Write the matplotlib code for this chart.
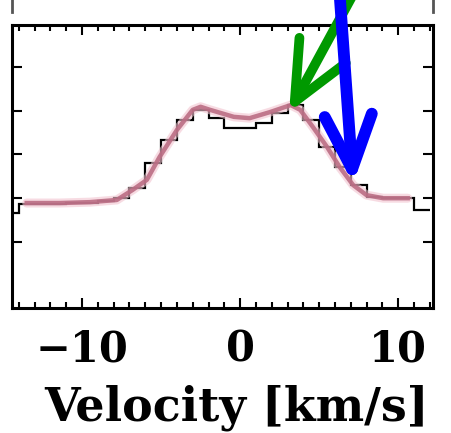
import numpy as np
import matplotlib
matplotlib.use('Agg')
import matplotlib.pyplot as plt
from matplotlib.ticker import MultipleLocator, NullFormatter

# observed spectrum, 1 km/s bins
bin_edges = list(range(-15, 13))
obs_flux = [0.66, 0.86, 0.86, 0.87, 0.88, 0.90, 0.93, 1.00,
            1.23, 1.81, 2.33, 2.79, 3.02, 2.83, 2.61, 2.61, 2.72, 2.95,
            3.13, 2.79, 2.17, 1.71, 1.30, 1.03, 1.00, 1.00, 0.73]

# model profile
model_vel = [-13.5, -11.4, -9.5, -7.8, -6.8, -5.9, -5.1, -4.0, -3.0, -2.5, -1.9,
             -0.4, 0.6, 1.9, 3.2, 3.8, 4.6, 5.5, 6.3, 7.15, 8.0, 9.05, 10.6]
model_flux = [0.89, 0.89, 0.91, 0.96, 1.19, 1.42, 1.94, 2.56, 3.02, 3.09, 3.02,
              2.86, 2.83, 2.97, 3.13, 3.02, 2.63, 2.17, 1.71, 1.30, 1.07, 1.00, 1.00]

# arrow targets (velocity, flux)
green_tip = (3.1, 2.97)
blue_tip = (7.15, 1.33)

fig = plt.figure(figsize=(4.52, 4.33), dpi=100)
ax = fig.add_axes([12/452, 1 - 308/433, 421/452, 283/433])

ax.plot(model_vel, model_flux, color='#f2c4d0', lw=6.5, alpha=0.6, solid_capstyle='round')
ax.stairs(obs_flux, bin_edges, baseline=None, color='black', lw=1.6)
ax.plot(model_vel, model_flux, color='#bb6d84', lw=3.2, alpha=0.9)

ax.set_xlim(-14.43, 12.2)
ax.set_ylim(-1.51, 4.96)
ax.set_xticks([-10, 0, 10])
ax.xaxis.set_minor_locator(MultipleLocator(1))
ax.set_yticks([0, 1, 2, 3, 4])
ax.yaxis.set_major_formatter(NullFormatter())
ax.tick_params(which='both', direction='in', top=True, right=True, width=1.5)
ax.tick_params(which='major', length=7)
ax.tick_params(which='minor', length=4)
ax.tick_params(axis='x', labelsize=30, pad=15)
for lab in ax.get_xticklabels():
    lab.set_family('DejaVu Serif')
    lab.set_weight('bold')
for sp in ax.spines.values():
    sp.set_linewidth(2.2)
ax.set_xlabel('Velocity [km/s]', family='DejaVu Serif', fontsize=33, weight='bold')
ax.xaxis.set_label_coords(0.534, -0.272)
ax.xaxis.label.set_va('top')

# bits of the panel above
ax_up = fig.add_axes([12/452, 1 - 12/433, 421/452, 0.2])
ax_up.set_xticks([])
ax_up.set_yticks([])
ax_up.patch.set_alpha(0)
ax_up.spines['top'].set_visible(False)
ax_up.spines['bottom'].set_visible(False)
for s in ['left', 'right']:
    ax_up.spines[s].set_linewidth(2)
    ax_up.spines[s].set_color('#555555')

ax.annotate('', xy=green_tip, xycoords='data', xytext=(0.812, 1.113),
            textcoords='axes fraction', annotation_clip=False,
            arrowprops=dict(arrowstyle='->,head_length=2.1,head_width=0.95',
                            mutation_scale=20, lw=7, color='#009900',
                            shrinkA=0, shrinkB=0, capstyle='round'))
ax.annotate('', xy=blue_tip, xycoords='data', xytext=(0.778, 1.113),
            textcoords='axes fraction', annotation_clip=False,
            arrowprops=dict(arrowstyle='->,head_length=1.94,head_width=0.85',
                            mutation_scale=20, lw=8.5, color='#0000ff',
                            shrinkA=0, shrinkB=0, capstyle='round'))

plt.savefig('out.png', dpi=100)
